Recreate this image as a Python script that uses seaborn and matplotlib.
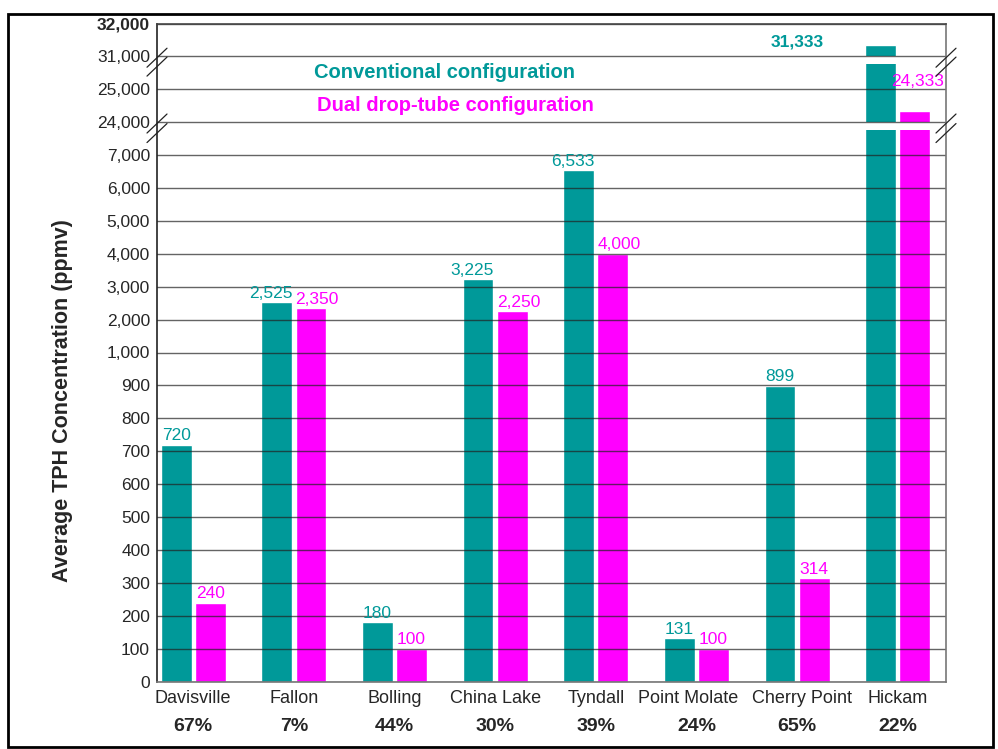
import numpy as np
import pandas as pd
import seaborn as sns
import matplotlib.pyplot as plt
from matplotlib.patches import Rectangle
from matplotlib.ticker import FixedLocator, FixedFormatter
from matplotlib.lines import Line2D
from matplotlib.transforms import ScaledTranslation

# --- data ---
sites = ['Davisville', 'Fallon', 'Bolling', 'China Lake', 'Tyndall',
         'Point Molate', 'Cherry Point', 'Hickam']
conventional = [720, 2525, 180, 3225, 6533, 131, 899, 31333]
dual_drop = [240, 2350, 100, 2250, 4000, 100, 314, 24333]
reduction = ['67%', '7%', '44%', '30%', '39%', '24%', '65%', '22%']
configs = ['Conventional configuration', 'Dual drop-tube configuration']

ytick_vals = [0, 100, 200, 300, 400, 500, 600, 700, 800, 900, 1000,
              2000, 3000, 4000, 5000, 6000, 7000, 24000, 25000, 31000, 32000]

TEAL = '#009999'
MAGENTA = '#ff00ff'

df = pd.DataFrame({
    'site': sites * 2,
    'config': [configs[0]] * len(sites) + [configs[1]] * len(sites),
    'value': conventional + dual_drop,
})

# piecewise (broken) axis: each slot is one gridline step
seg_vals = [0, 1000, 7000, 24000, 25000, 31000, 32000]
seg_slots = [0, 10, 16, 17, 18, 19, 20]


def fwd(v):
    return np.interp(v, seg_vals, seg_slots)


def inv(s):
    return np.interp(s, seg_slots, seg_vals)


sns.set_style('white')
plt.rcParams['font.family'] = ['Liberation Sans', 'DejaVu Sans']

fig = plt.figure(figsize=(9.98, 7.49), dpi=100)
ax = fig.add_axes([157 / 998, 67.5 / 749, 789 / 998, 658 / 749])

sns.barplot(data=df, x='site', y='value', hue='config', order=sites,
            hue_order=configs, palette=[TEAL, MAGENTA], width=0.68, gap=0.1,
            errorbar=None, legend=False, saturation=1, ax=ax)

ax.set_yscale('function', functions=(fwd, inv))
ax.set_ylim(0, 32000)
ax.set_xlim(-0.36, 7.48)

# axis breaks: white bands through the bars
for lo, hi in [(inv(16.76), 24000), (inv(18.77), 31000)]:
    ax.axhspan(lo, hi, color='white', zorder=2.5, lw=0)

ax.yaxis.set_major_locator(FixedLocator(ytick_vals))
ax.yaxis.set_major_formatter(FixedFormatter([f'{v:,}' for v in ytick_vals]))
ax.yaxis.grid(True, color='#222222', lw=1.0, alpha=0.7)
ax.set_axisbelow(False)
for gl in ax.get_ygridlines():
    gl.set_zorder(3)
ax.tick_params(axis='y', labelsize=12.5, length=4, width=0.8, color='#444444', pad=1)
ax.tick_params(axis='x', labelsize=13, length=0, pad=6)
ax.get_yticklabels()[-1].set_fontweight('bold')
ax.set_xlabel('')
ax.set_ylabel('')

# nudge the two crowded site names apart a little
xlabels = ax.get_xticklabels()
for lab, shift in [(xlabels[5], -8), (xlabels[6], 5)]:
    lab.set_transform(lab.get_transform() + ScaledTranslation(shift / 100, 0, fig.dpi_scale_trans))

for side, col in [('left', '#222222'), ('right', '#777777'),
                  ('bottom', '#777777'), ('top', '#444444')]:
    ax.spines[side].set_visible(True)
    ax.spines[side].set_color(col)
    ax.spines[side].set_linewidth(1.2)
    ax.spines[side].set_zorder(4)

# value labels: short ones centred, long ones pushed outward from the pair
for container, values, color, side in [(ax.containers[0], conventional, TEAL, 'right'),
                                       (ax.containers[1], dual_drop, MAGENTA, 'left')]:
    for bar, v in zip(list(container)[:-1], values[:-1]):
        txt = f'{v:,}'
        if len(txt) > 3:
            x = bar.get_x() + (bar.get_width() if side == 'right' else 0)
            ha = side
        else:
            x = bar.get_x() + bar.get_width() / 2
            ha = 'center'
        ax.annotate(txt, (x, v), xytext=(0, 1), textcoords='offset points',
                    ha=ha, va='bottom', color=color, fontsize=12.5, zorder=5)

ax.text(6.0, 31450, f'{conventional[-1]:,}', color=TEAL, fontsize=12.5,
        fontweight='bold', ha='center', va='center', zorder=5)
ax.text(7.2, 25000, f'{dual_drop[-1]:,}', color=MAGENTA, fontsize=12.5,
        ha='center', va='bottom', zorder=5)

# legend-like titles inside plot
ax.text(0.199, inv(18.5), configs[0], transform=ax.get_yaxis_transform(),
        color=TEAL, fontsize=14.5, fontweight='bold', va='center', zorder=5)
ax.text(0.203, inv(17.5), configs[1], transform=ax.get_yaxis_transform(),
        color=MAGENTA, fontsize=14.5, fontweight='bold', va='center', zorder=5)

# reduction percentages under site names
for i, pct in enumerate(reduction):
    ax.text(i, -0.069, pct, transform=ax.get_xaxis_transform(), ha='center',
            va='center', fontsize=14, fontweight='bold')

# break marks on both side spines
dx, dy = 10 / 789, 9.5 / 658
for xa in (0.0, 1.0):
    for yc in (16.96, 16.67, 18.96, 18.69):
        ya = yc / 20
        ax.add_line(Line2D([xa - dx, xa + dx], [ya - dy, ya + dy],
                           transform=ax.transAxes, color='#222222', lw=0.9,
                           clip_on=False, zorder=6))

fig.text(63 / 998, 1 - 401 / 749, 'Average TPH Concentration (ppmv)', rotation=90,
         ha='center', va='center', fontsize=15.5, fontweight='bold')

fig.patches.append(Rectangle((8 / 998, 2 / 749), 985 / 998, 733 / 749,
                             transform=fig.transFigure, fill=False, ec='black', lw=2))

fig.savefig('out.png', dpi=100)
